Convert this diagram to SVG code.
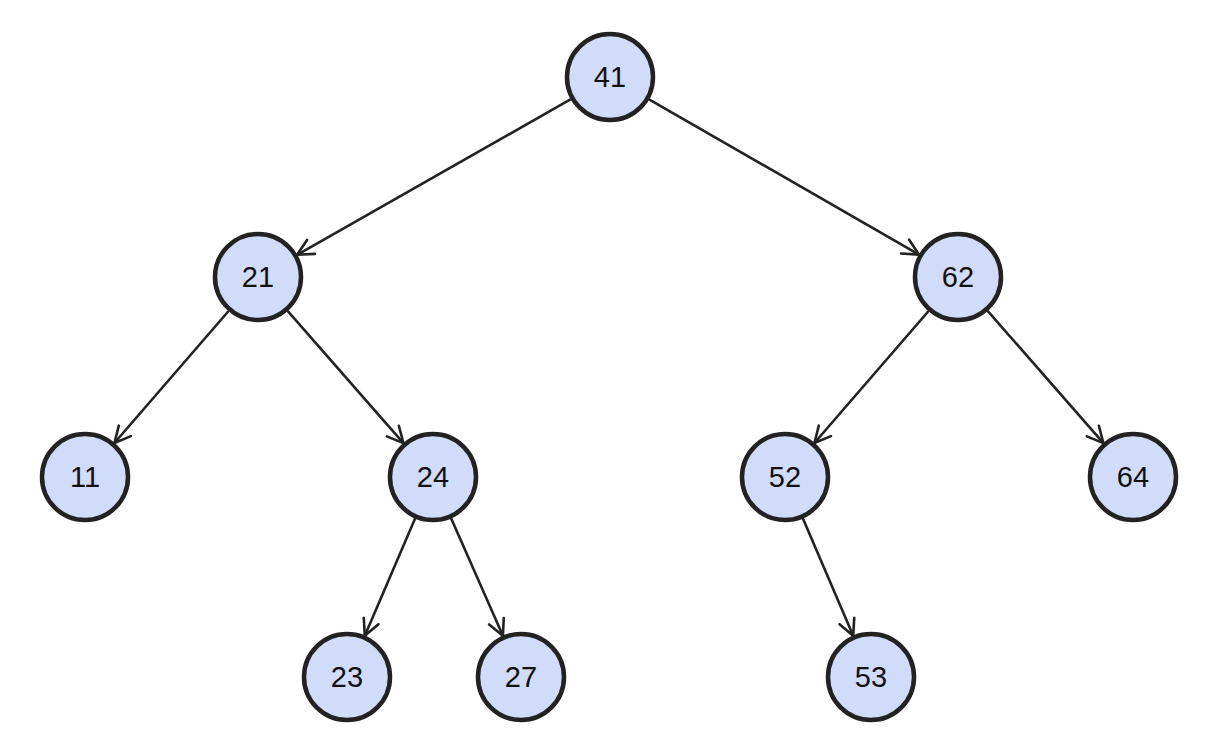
<svg xmlns="http://www.w3.org/2000/svg" width="1206" height="750" viewBox="0 0 1206 750">
<defs>
<marker id="arr" markerUnits="userSpaceOnUse" markerWidth="34" markerHeight="34" viewBox="-22 -17 34 34" refX="0" refY="0" orient="auto">
<path d="M -16 -8 L 0 0 L -16 8" fill="none" stroke="#222" stroke-width="2.6" stroke-linecap="round" stroke-linejoin="round"/>
</marker>
</defs>
<style>
.n circle{fill:#d0dcfa;stroke:#222;stroke-width:4.5}
.n text{font-family:"Liberation Sans",Arial,sans-serif;font-size:29px;fill:#111;text-anchor:middle;dominant-baseline:central}
.e line{stroke:#222;stroke-width:2.6;marker-end:url(#arr)}
</style>
<rect width="1206" height="750" fill="#fff"/>
<g id="edges" class="e">
<line x1="570.9" y1="99.2" x2="297.1" y2="254.8"/>
<line x1="649.0" y1="99.4" x2="919.0" y2="254.6"/>
<line x1="228.6" y1="311.0" x2="114.4" y2="443.0"/>
<line x1="287.6" y1="310.9" x2="403.4" y2="443.1"/>
<line x1="928.6" y1="311.0" x2="814.4" y2="443.0"/>
<line x1="987.6" y1="310.9" x2="1103.4" y2="443.1"/>
<line x1="415.2" y1="518.3" x2="364.8" y2="635.7"/>
<line x1="451.1" y1="518.2" x2="502.9" y2="635.8"/>
<line x1="802.8" y1="518.3" x2="853.2" y2="635.7"/>
</g>
<g id="n41" class="n"><circle cx="610" cy="77" r="43"/><text x="610" y="77">41</text></g>
<g id="n21" class="n"><circle cx="258" cy="277" r="43"/><text x="258" y="277">21</text></g>
<g id="n62" class="n"><circle cx="958" cy="277" r="43"/><text x="958" y="277">62</text></g>
<g id="n11" class="n"><circle cx="85" cy="477" r="43"/><text x="85" y="477">11</text></g>
<g id="n24" class="n"><circle cx="433" cy="477" r="43"/><text x="433" y="477">24</text></g>
<g id="n52" class="n"><circle cx="785" cy="477" r="43"/><text x="785" y="477">52</text></g>
<g id="n64" class="n"><circle cx="1133" cy="477" r="43"/><text x="1133" y="477">64</text></g>
<g id="n23" class="n"><circle cx="347" cy="677" r="43"/><text x="347" y="677">23</text></g>
<g id="n27" class="n"><circle cx="521" cy="677" r="43"/><text x="521" y="677">27</text></g>
<g id="n53" class="n"><circle cx="871" cy="677" r="43"/><text x="871" y="677">53</text></g>
</svg>
